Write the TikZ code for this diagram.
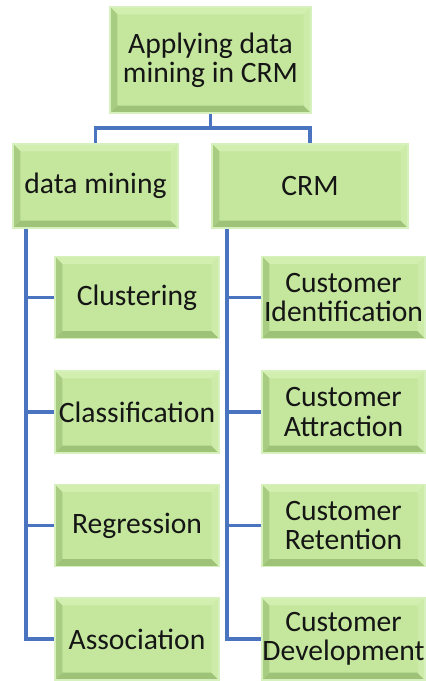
\documentclass[tikz,border=0pt]{standalone}
\usepackage{fontspec}
\setmainfont{Carlito}
\definecolor{face}{HTML}{C4E79D}
\definecolor{topc}{HTML}{D2EFB0}
\definecolor{leftc}{HTML}{A8CD82}
\definecolor{botc}{HTML}{9EC378}
\definecolor{rightc}{HTML}{CDEBA9}
\definecolor{glow}{HTML}{D6F0BE}
\definecolor{conn}{HTML}{4A74C0}
\definecolor{txt}{HTML}{151515}
\begin{document}
\begin{tikzpicture}[x=0.75pt,y=-0.75pt,
  bevelbox/.style={rectangle, fill=face, draw=glow, line width=1.2pt, inner sep=0pt,
    align=center, text=txt, font=\fontsize{22.2}{22}\selectfont,
    path picture={
      \def\bb{path picture bounding box}
      \fill[topc] (\bb.north west) -- (\bb.north east) -- ([shift={(-5.5pt,-5.5pt)}]\bb.north east) -- ([shift={(5.5pt,-5.5pt)}]\bb.north west) -- cycle;
      \fill[leftc] (\bb.north west) -- (\bb.south west) -- ([shift={(5.5pt,5.5pt)}]\bb.south west) -- ([shift={(5.5pt,-5.5pt)}]\bb.north west) -- cycle;
      \fill[botc] (\bb.south west) -- (\bb.south east) -- ([shift={(-5.5pt,5.5pt)}]\bb.south east) -- ([shift={(5.5pt,5.5pt)}]\bb.south west) -- cycle;
      \fill[rightc] (\bb.north east) -- (\bb.south east) -- ([shift={(-5.5pt,5.5pt)}]\bb.south east) -- ([shift={(-5.5pt,-5.5pt)}]\bb.north east) -- cycle;
    }},
  topbox/.style={bevelbox, minimum width=150.75pt, minimum height=79.5pt},
  midbox/.style={bevelbox, minimum height=63pt},
  leafl/.style={bevelbox, minimum width=123pt, minimum height=61.5pt},
  leafr/.style={bevelbox, minimum width=122.25pt, minimum height=61.5pt},
  link/.style={draw=conn, line width=2.8pt}]
\useasboundingbox (0,0) rectangle (425,681);

\node[topbox] (top) at (210.5,60) {Applying data\\mining in CRM};
\node[midbox, minimum width=123.75pt] (dm) at (95.5,186) {data mining};
\node[midbox, minimum width=147pt] (crm) at (310,186) {CRM};

\node[leafl] (c1) at (137,297.5) {Clustering};
\node[leafl] (c2) at (137,412) {Classification};
\node[leafl] (c3) at (137,525.5) {Regression};
\node[leafl] (c4) at (137,639) {Association};

\node[leafr] (r1) at (343.5,297.5) {Customer\\Identification};
\node[leafr] (r2) at (343.5,412) {Customer\\Attraction};
\node[leafr] (r3) at (343.5,525.5) {Customer\\Retention};
\node[leafr] (r4) at (343.5,639) {Customer\\Development};

\coordinate (j) at (210.5,128);
\draw[link] (top.south) -- (j);
\draw[link] (dm.north) |- (j) -| (crm.north);

\coordinate (lt) at ([xshift=10.5pt]dm.south west);
\draw[link] (lt) |- (c4.west);
\foreach \c in {c1,c2,c3} \draw[link] (lt |- \c.west) -- (\c.west);

\coordinate (rt) at ([xshift=12pt]crm.south west);
\draw[link] (rt) |- (r4.west);
\foreach \c in {r1,r2,r3} \draw[link] (rt |- \c.west) -- (\c.west);
\end{tikzpicture}
\end{document}
